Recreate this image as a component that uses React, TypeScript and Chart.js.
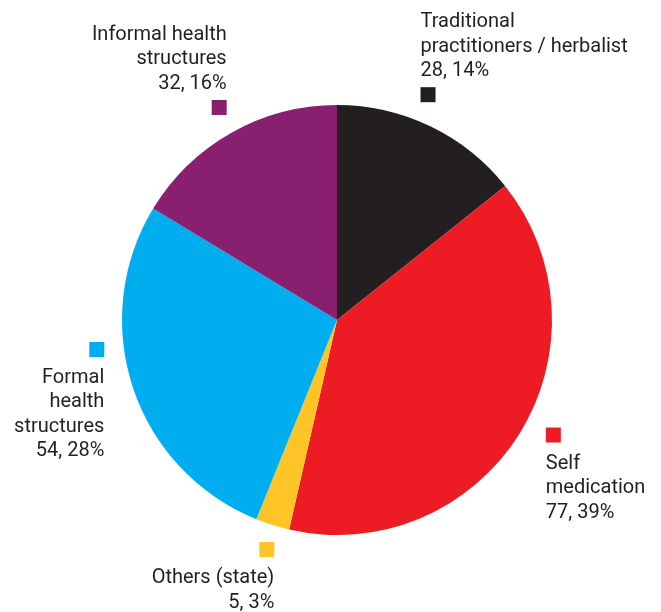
import React, { useEffect, useRef } from "react";
import { Chart, registerables } from "chart.js";

Chart.register(...registerables);

const categories: string[][] = [
  ["Traditional", "practitioners / herbalist"],
  ["Self", "medication"],
  ["Others (state)"],
  ["Formal", "health", "structures"],
  ["Informal health", "structures"],
];
const values: number[] = [28, 77, 5, 54, 32];
const colors: string[] = ["#231F20", "#ED1C24", "#FFC425", "#00AEEF", "#89206F"];

// label placement: angle (deg, clockwise from top), distance beyond radius, side, text above/below marker
const labelAngle: number[] = [22, 118, 197, 263, 331];
const labelDist: number[] = [28, 30, 25, 27, 28];
const labelSide: ("left" | "right")[] = ["right", "right", "left", "left", "left"];
const labelAbove: boolean[] = [true, false, false, false, true];

const FONT = "20px Roboto";
const LINE_H = 24.5;
const MARK = 15;

const labelPlugin = {
  id: "outerLabels",
  afterDraw(chart: any) {
    const ctx = chart.ctx;
    const meta = chart.getDatasetMeta(0);
    const arc = meta.data[0];
    const cx = arc.x;
    const cy = arc.y;
    const r = arc.outerRadius;
    const total = values.reduce((a, b) => a + b, 0);
    ctx.save();
    ctx.font = FONT;
    ctx.textBaseline = "alphabetic";
    categories.forEach((lines, i) => {
      const a = (labelAngle[i] * Math.PI) / 180;
      const d = r + labelDist[i];
      const mx = cx + d * Math.sin(a);
      const my = cy - d * Math.cos(a);
      const right = labelSide[i] === "right";
      ctx.fillStyle = colors[i];
      ctx.fillRect(mx - MARK / 2, my - MARK / 2, MARK, MARK);
      ctx.fillStyle = "#231F20";
      const txt = [...lines, `${values[i]}, ${Math.round((values[i] / total) * 100)}%`];
      ctx.textAlign = right ? "left" : "right";
      const tx = right ? mx - MARK / 2 : mx + MARK / 2;
      if (labelAbove[i]) {
        const lastBase = my - MARK / 2 - 11;
        txt.forEach((t, k) => {
          ctx.fillText(t, tx, lastBase - (txt.length - 1 - k) * LINE_H);
        });
      } else {
        const firstBase = my + MARK / 2 + 26;
        txt.forEach((t, k) => {
          ctx.fillText(t, tx, firstBase + k * LINE_H);
        });
      }
    });
    ctx.restore();
  },
};

export default function App() {
  const ref = useRef<HTMLCanvasElement>(null);
  useEffect(() => {
    document.body.style.margin = "0";
    const chart = new Chart(ref.current as HTMLCanvasElement, {
      type: "pie",
      data: {
        labels: categories.map((c) => c.join(" ")),
        datasets: [
          {
            data: values,
            backgroundColor: colors,
            borderWidth: 0,
          },
        ],
      },
      options: {
        responsive: false,
        animation: false,
        layout: { padding: { left: 122, right: 109, top: 105, bottom: 77 } },
        plugins: {
          legend: { display: false },
          tooltip: { enabled: false },
        },
      },
      plugins: [labelPlugin],
    });
    return () => chart.destroy();
  }, []);
  return (
    <div style={{ width: 661, height: 612, background: "#fff" }}>
      <canvas ref={ref} width={661} height={612} />
    </div>
  );
}
